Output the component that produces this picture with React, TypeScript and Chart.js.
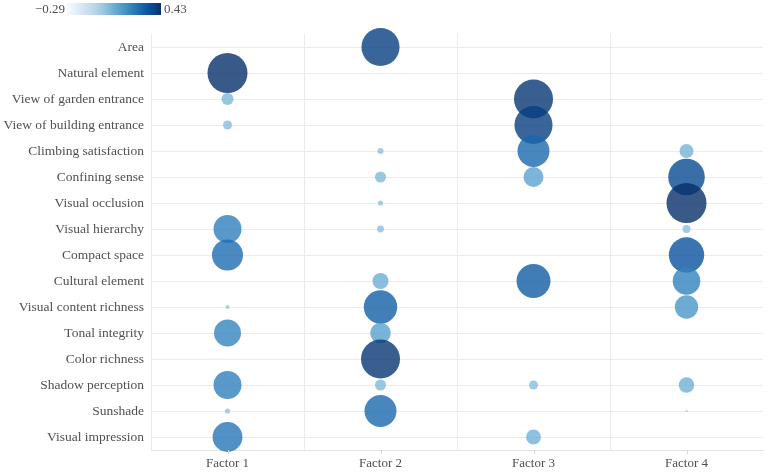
import React, { useEffect, useRef } from 'react';
import { Chart, registerables } from 'chart.js';

Chart.register(...registerables);

const categories = [
  'Area',
  'Natural element',
  'View of garden entrance',
  'View of building entrance',
  'Climbing satisfaction',
  'Confining sense',
  'Visual occlusion',
  'Visual hierarchy',
  'Compact space',
  'Cultural element',
  'Visual content richness',
  'Tonal integrity',
  'Color richness',
  'Shadow perception',
  'Sunshade',
  'Visual impression',
];

const factors = ['Factor 1', 'Factor 2', 'Factor 3', 'Factor 4'];

const factor1: (number | null)[] = [null, 0.43, 0.039, 0.022, null, null, null, 0.21, 0.26, null, 0.004, 0.196, null, 0.21, 0.007, 0.24];
const factor2: (number | null)[] = [0.39, null, null, null, 0.01, 0.033, 0.007, 0.013, null, 0.069, 0.3, 0.114, 0.41, 0.033, 0.275, null];
const factor3: (number | null)[] = [null, null, 0.41, 0.39, 0.275, 0.107, null, null, null, 0.31, null, null, null, 0.022, null, 0.06];
const factor4: (number | null)[] = [null, null, null, null, 0.053, 0.36, 0.43, 0.017, 0.337, 0.205, 0.147, null, null, 0.065, 0.001, null];

const colorMin = -0.29;
const colorMax = 0.43;
const colorTickLabels = ['\u22120.29', '0.43'];

const BLUES = ['#f7fbff', '#deebf7', '#c6dbef', '#9ecae1', '#6baed6', '#4292c6', '#2171b5', '#08519c', '#08306b'];
const FONT = '"Liberation Serif", serif';
const TEXT = '#505050';
const GRID = '#ebebeb';
const R_SQRT_K = 30.5;
const ALPHA = 0.8;

function hexToRgb(h: string) {
  const n = parseInt(h.slice(1), 16);
  return [(n >> 16) & 255, (n >> 8) & 255, n & 255];
}

function colorFor(v: number) {
  let t = (v - colorMin) / (colorMax - colorMin);
  t = Math.max(0, Math.min(1, t));
  const pos = t * (BLUES.length - 1);
  const i = Math.min(BLUES.length - 2, Math.floor(pos));
  const f = pos - i;
  const a = hexToRgb(BLUES[i]);
  const b = hexToRgb(BLUES[i + 1]);
  const c = a.map((x, k) => Math.round(x + (b[k] - x) * f));
  return `rgba(${c[0]},${c[1]},${c[2]},${ALPHA})`;
}

const xTickPlugin = {
  id: 'xTickMarks',
  afterDraw(chart: any) {
    const xs = chart.scales.x;
    const ctx = chart.ctx;
    const bottom = chart.chartArea.bottom;
    ctx.save();
    ctx.strokeStyle = '#d9d9d9';
    ctx.lineWidth = 1;
    factors.forEach((_, i) => {
      const x = Math.round(xs.getPixelForValue(i)) + 0.5;
      ctx.beginPath();
      ctx.moveTo(x, bottom);
      ctx.lineTo(x, bottom + 4);
      ctx.stroke();
    });
    ctx.restore();
  },
};

export default function App() {
  const ref = useRef<HTMLCanvasElement>(null);

  useEffect(() => {
    document.body.style.margin = '0';
    const all = [factor1, factor2, factor3, factor4];
    const points: any[] = [];
    all.forEach((vals, fi) => {
      vals.forEach((v, ci) => {
        if (v != null) points.push({ x: factors[fi], y: categories[ci], r: R_SQRT_K * Math.sqrt(v), v });
      });
    });

    const chart = new Chart(ref.current as HTMLCanvasElement, {
      type: 'bubble',
      data: {
        datasets: [
          {
            data: points,
            backgroundColor: (ctx: any) => colorFor(ctx.raw ? ctx.raw.v : 0),
            borderWidth: 0,
            hoverBorderWidth: 0,
          } as any,
        ],
      },
      options: {
        animation: false,
        responsive: false,
        events: [],
        layout: { autoPadding: false, padding: { top: 34, right: 4, left: 0, bottom: 0 } },
        plugins: { legend: { display: false }, tooltip: { enabled: false } },
        scales: {
          x: {
            type: 'category',
            labels: factors,
            offset: true,
            grid: {
              offset: true,
              color: (ctx: any) => (ctx.type === 'tick' ? GRID : 'rgba(0,0,0,0)'),
              tickLength: 0,
            },
            border: { color: '#e3e3e3' },
            ticks: { color: TEXT, font: { family: FONT, size: 13 }, padding: 6 },
            afterFit: (s: any) => {
              s.height = 22;
              s.paddingLeft = 0;
              s.paddingRight = 0;
            },
          } as any,
          y: {
            type: 'category',
            labels: categories,
            offset: true,
            grid: { offset: false, color: GRID, tickLength: 0 },
            border: { display: false },
            ticks: { color: TEXT, font: { family: FONT, size: 13.5 }, padding: 7 },
            afterFit: (s: any) => {
              s.width = 151;
              s.paddingTop = 0;
              s.paddingBottom = 0;
            },
          } as any,
        },
      },
      plugins: [xTickPlugin],
    });
    return () => chart.destroy();
  }, []);

  const gradient = `linear-gradient(to right, ${BLUES.join(', ')})`;

  return (
    <div style={{ position: 'relative', width: 767, height: 472 }}>
      <canvas ref={ref} width={767} height={472} style={{ display: 'block', width: 767, height: 472 }} />
      <div style={{ position: 'absolute', left: 35, top: 1, font: `13px ${FONT}`, color: TEXT, lineHeight: '16px' }}>
        {colorTickLabels[0]}
      </div>
      <div style={{ position: 'absolute', left: 67, top: 3, width: 94, height: 12, background: gradient }} />
      <div style={{ position: 'absolute', left: 164, top: 1, font: `13px ${FONT}`, color: TEXT, lineHeight: '16px' }}>
        {colorTickLabels[1]}
      </div>
    </div>
  );
}
